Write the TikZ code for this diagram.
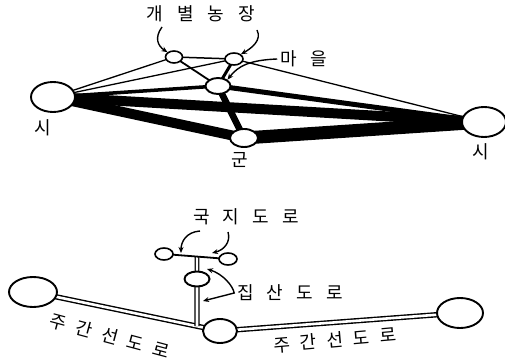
\documentclass[tikz,border=0pt]{standalone}
\usepackage{fontspec}
\setmainfont{Noto Sans CJK KR}
\usetikzlibrary{arrows.meta, shapes.geometric, positioning}
\pgfdeclarelayer{edges}
\pgfsetlayers{edges,main}

\begin{document}
\begin{tikzpicture}[x=1pt, y=-1pt, >={Stealth[length=6pt,width=5pt]},
    place/.style={ellipse, draw, fill=white, line width=1.9pt, inner sep=0pt},
    lbl/.style={font=\fontsize{18}{18}\selectfont, inner sep=0pt, execute at begin node={\spaceskip=#1\relax}},
    lbl/.default=13pt,
    road/.style={double, double distance=2.6pt, line width=1.4pt},
    pointer/.style={->, line width=1.4pt}]
  \useasboundingbox (0,0) rectangle (505,363);
  % upper network
  \node[place, minimum width=44pt, minimum height=30pt] (si1) at (53,97) {};
  \node[place, minimum width=44pt, minimum height=30pt] (si2) at (484,122) {};
  \node[place, minimum width=28pt, minimum height=18pt] (gun) at (244,138) {};
  \node[place, minimum width=25pt, minimum height=16pt] (ma) at (218,86) {};
  \node[place, minimum width=17pt, minimum height=12pt, line width=1.6pt] (f1) at (174,57) {};
  \node[place, minimum width=18pt, minimum height=12pt, line width=1.6pt] (f2) at (234,59) {};
  \node[lbl] (si1-lbl) at (43,128) {시};
  \node[lbl] (si2-lbl) at (481,152) {시};
  \node[lbl] (gun-lbl) at (240,160) {군};
  \node[lbl=14pt] (farm-lbl) at (201,14) {개 별 농 장};
  \node[lbl=14pt] (ma-lbl) at (304,59) {마 을};
  \begin{pgfonlayer}{edges}
    \foreach \a/\b/\w in {si1/f1/1.3, si1/f2/1.3, f1/f2/1.5, f2/si2/1.3, f1/ma/1.8,
        f2/ma/3, si1/ma/3.5, ma/si2/5, ma/gun/6.5, si1/gun/10, si1/si2/10, gun/si2/13}
      \draw[line width=\w pt] (\a.center) -- (\b.center);
  \end{pgfonlayer}
  \coordinate (farm-a) at (162,27);
  \coordinate (farm-b) at (257,30);
  \draw[pointer] (farm-a) .. controls (154,38) and (158,46) .. (f1.north west);
  \draw[pointer] (farm-b) .. controls (262,40) and (252,48) .. (f2.north east);
  \draw[pointer] ([xshift=-3pt]ma-lbl.west) .. controls (250,60) and (238,66) .. (ma.north east);
  % lower network
  \node[place, minimum width=48pt, minimum height=30pt] (bsi1) at (33,292) {};
  \node[place, minimum width=46pt, minimum height=30pt] (bsi2) at (460,313) {};
  \node[place, minimum width=34pt, minimum height=24pt] (bgun) at (220,331) {};
  \node[place, minimum width=25pt, minimum height=15pt] (jip) at (197,279) {};
  \node[place, minimum width=18pt, minimum height=12pt, line width=1.6pt] (gl) at (164,254) {};
  \node[place, minimum width=18pt, minimum height=12pt, line width=1.6pt] (gr) at (228,259) {};
  \node[lbl] (guk-lbl) at (246,217) {국 지 도 로};
  \node[lbl] (jip-lbl) at (290,293) {집 산 도 로};
  \node[lbl=10pt, rotate=-15] (ju1-lbl) at (110,336) {주 간 선 도 로};
  \node[lbl=10pt, rotate=5] (ju2-lbl) at (335,340) {주 간 선 도 로};
  \coordinate (jn) at (intersection of jip.center--jip.south and bsi1.center--bgun.center);
  \coordinate (tj) at (intersection of jip.center--jip.north and gl.center--gr.center);
  \begin{pgfonlayer}{edges}
    \draw[road] (bsi1.center) -- (bgun.center);
    \draw[road] (bgun.center) -- (bsi2.center);
    \draw[road, double distance=2.6pt, line width=1.3pt] (jip.center) -- (jn);
    \draw[road, double distance=2.2pt, line width=1.2pt] (jip.center) -- (tj);
    \draw[line width=1.8pt] (gl.center) -- (gr.center);
  \end{pgfonlayer}
  \coordinate (guk-a) at (200,231);
  \coordinate (guk-b) at (228,232);
  \draw[pointer] (guk-a) .. controls (186,232) and (181,242) .. (181,253);
  \draw[pointer] (guk-b) .. controls (231,242) and (224,250) .. (212,253);
  \coordinate (jip-top) at (207,269);
  \coordinate (jip-bot) at (203,301);
  \draw[pointer, <->] (jip-top) .. controls (223,274) and (233,286) .. ([xshift=-3pt]jip-lbl.west) -- (jip-bot);
\end{tikzpicture}
\end{document}
